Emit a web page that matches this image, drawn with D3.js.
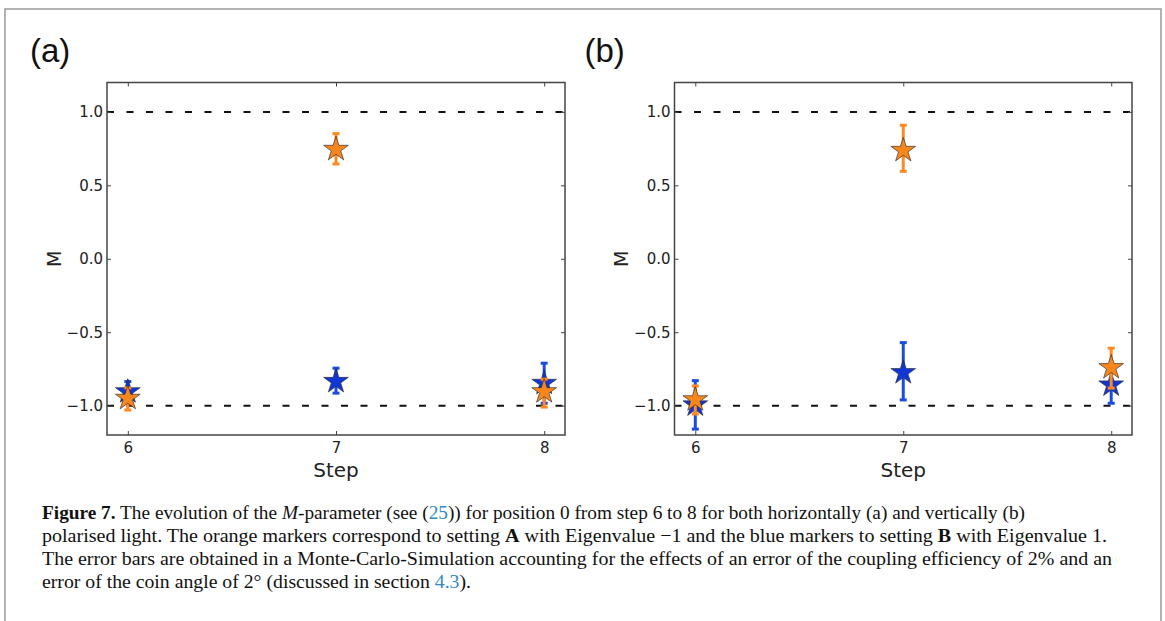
<!DOCTYPE html>
<html>
<head>
<meta charset="utf-8">
<script src="https://cdn.jsdelivr.net/npm/d3@7"></script>
<style>
  html, body { margin: 0; padding: 0; background: #fff; }
  svg { display: block; }
</style>
</head>
<body>
<svg id="chart" width="1165" height="621"></svg>
<script>
// ---------------- DATA ----------------
const steps = [6, 7, 8];
const xTickLabels = ["6", "7", "8"];
const yTicks = [-1.0, -0.5, 0.0, 0.5, 1.0];
const yTickLabels = ["\u22121.0", "\u22120.5", "0.0", "0.5", "1.0"];
const refLines = [1.0, -1.0];
const panelLabels = ["(a)", "(b)"];

// Panel (a): horizontally polarised
const aOrange     = [-0.950, 0.745, -0.905];
const aOrangeLow  = [-1.030, 0.645, -1.010];
const aOrangeHigh = [-0.880, 0.852, -0.820];
const aBlue       = [-0.905, -0.835, -0.848];
const aBlueLow    = [-0.980, -0.915, -0.984];
const aBlueHigh   = [-0.836, -0.745, -0.711];

// Panel (b): vertically polarised
const bOrange     = [-0.960, 0.738, -0.741];
const bOrangeLow  = [-1.057, 0.595, -0.881];
const bOrangeHigh = [-0.866, 0.909, -0.609];
const bBlue       = [-0.995, -0.775, -0.859];
const bBlueLow    = [-1.160, -0.961, -0.984];
const bBlueHigh   = [-0.830, -0.571, -0.760];

// ---------------- STYLE ----------------
const ORANGE = "#f7861c", ORANGE_ERR = "#ff8a1f";
const BLUE = "#1236d6", BLUE_ERR = "#1a4ce0";
const svg = d3.select("#chart");

// outer frame
svg.append("rect")
  .attr("x", 5).attr("y", 9).attr("width", 1156).attr("height", 630)
  .attr("fill", "none").attr("stroke", "#9a9a9a").attr("stroke-width", 1.5);

const plotTop = 82.5, plotBottom = 435;
const panels = [
  { left: 107, right: 565, label: panelLabels[0], labelX: 30,
    series: [
      { v: aBlue, lo: aBlueLow, hi: aBlueHigh, fill: BLUE, err: BLUE_ERR },
      { v: aOrange, lo: aOrangeLow, hi: aOrangeHigh, fill: ORANGE, err: ORANGE_ERR }
    ] },
  { left: 674.5, right: 1132, label: panelLabels[1], labelX: 584.5,
    series: [
      { v: bBlue, lo: bBlueLow, hi: bBlueHigh, fill: BLUE, err: BLUE_ERR },
      { v: bOrange, lo: bOrangeLow, hi: bOrangeHigh, fill: ORANGE, err: ORANGE_ERR }
    ] }
];

const star = d3.symbol().type(d3.symbolStar).size(190);

panels.forEach((p, pi) => {
  const x = d3.scaleLinear().domain([5.9, 8.1]).range([p.left, p.right]);
  const y = d3.scaleLinear().domain([-1.2, 1.2]).range([plotBottom, plotTop]);
  const g = svg.append("g");

  // panel label
  svg.append("text").attr("x", p.labelX).attr("y", 62)
    .attr("font-family", "Liberation Sans, Arial, sans-serif")
    .attr("font-size", 33).attr("fill", "#111").text(p.label);

  const clipId = "clip" + pi;
  svg.append("clipPath").attr("id", clipId).append("rect")
    .attr("x", p.left).attr("y", plotTop).attr("width", p.right - p.left).attr("height", plotBottom - plotTop);

  // reference dashed lines
  g.append("g").attr("clip-path", `url(#${clipId})`)
    .selectAll("line").data(refLines).join("line")
    .attr("x1", p.left).attr("x2", p.right)
    .attr("y1", d => y(d)).attr("y2", d => y(d))
    .attr("stroke", "#111").attr("stroke-width", 2)
    .attr("stroke-dasharray", "7,12.5");

  // axes
  const fontAxis = "DejaVu Sans, sans-serif";
  const left = g.append("g").attr("transform", `translate(${p.left},0)`)
    .call(d3.axisLeft(y).tickValues(yTicks).tickFormat((d, i) => yTickLabels[i]).tickSize(-4).tickPadding(4));
  const right = g.append("g").attr("transform", `translate(${p.right},0)`)
    .call(d3.axisRight(y).tickValues(yTicks).tickFormat("").tickSize(-4));
  const bot = g.append("g").attr("transform", `translate(0,${plotBottom})`)
    .call(d3.axisBottom(x).tickValues(steps).tickFormat((d, i) => xTickLabels[i]).tickSize(-4).tickPadding(7));
  const tp = g.append("g").attr("transform", `translate(0,${plotTop})`)
    .call(d3.axisTop(x).tickValues(steps).tickFormat("").tickSize(-4));
  [left, right, bot, tp].forEach(a => {
    a.select(".domain").remove();
    a.selectAll(".tick line").attr("stroke", "#444").attr("stroke-width", 1);
    a.selectAll(".tick text").attr("font-family", fontAxis).attr("font-size", 15).attr("fill", "#222");
  });
  // frame of axes
  g.append("rect").attr("x", p.left).attr("y", plotTop)
    .attr("width", p.right - p.left).attr("height", plotBottom - plotTop)
    .attr("fill", "none").attr("stroke", "#444").attr("stroke-width", 1.5);

  // axis titles
  g.append("text").attr("x", (p.left + p.right) / 2).attr("y", 477)
    .attr("text-anchor", "middle").attr("font-family", fontAxis)
    .attr("font-size", 20).attr("fill", "#222").text("Step");
  g.append("text")
    .attr("transform", `translate(${p.left - 46.5},${y(0)}) rotate(-90)`)
    .attr("text-anchor", "middle").attr("font-family", fontAxis)
    .attr("font-size", 19).attr("fill", "#222").text("M");

  // series
  p.series.forEach(s => {
    const sg = g.append("g");
    steps.forEach((st, i) => {
      const cx = x(st);
      sg.append("line").attr("x1", cx).attr("x2", cx)
        .attr("y1", y(s.lo[i])).attr("y2", y(s.hi[i]))
        .attr("stroke", s.err).attr("stroke-width", 3);
      [s.lo[i], s.hi[i]].forEach(e => {
        sg.append("line").attr("x1", cx - 3.5).attr("x2", cx + 3.5)
          .attr("y1", y(e)).attr("y2", y(e))
          .attr("stroke", s.err).attr("stroke-width", 3);
      });
    });
    sg.selectAll("path.star").data(steps).join("path")
      .attr("class", "star")
      .attr("d", star)
      .attr("transform", (d, i) => `translate(${x(d)},${y(s.v[i])})`)
      .attr("fill", s.fill).attr("stroke", "#2a2a2a").attr("stroke-width", 0.8)
      .attr("stroke-opacity", 0.8);
  });
});

// ---------------- CAPTION ----------------
const capFont = "Liberation Serif, Times New Roman, serif";
const LINK = "#2f8ac4";
const capLines = [
  { y: 519, len: 983, parts: [
      { t: "Figure 7.", w: "bold" }, { t: " The evolution of the " }, { t: "M", s: "italic" },
      { t: "-parameter (see (" }, { t: "25", c: LINK }, { t: ")) for position 0 from step 6 to 8 for both horizontally (a) and vertically (b)" } ] },
  { y: 542, len: 1065, parts: [
      { t: "polarised light. The orange markers correspond to setting " }, { t: "A", w: "bold" },
      { t: " with Eigenvalue \u22121 and the blue markers to setting " }, { t: "B", w: "bold" }, { t: " with Eigenvalue 1." } ] },
  { y: 565, len: 1070, parts: [
      { t: "The error bars are obtained in a Monte-Carlo-Simulation accounting for the effects of an error of the coupling efficiency of 2% and an" } ] },
  { y: 588, len: 429, parts: [
      { t: "error of the coin angle of 2\u00b0 (discussed in section " }, { t: "4.3", c: LINK }, { t: ")." } ] }
];
capLines.forEach(l => {
  const t = svg.append("text").attr("x", 42).attr("y", l.y)
    .attr("font-family", capFont).attr("font-size", 19.5).attr("fill", "#111")
    .attr("textLength", l.len).attr("lengthAdjust", "spacingAndGlyphs")
    .style("white-space", "pre");
  l.parts.forEach(pt => {
    t.append("tspan").text(pt.t)
      .attr("font-weight", pt.w || null)
      .attr("font-style", pt.s || null)
      .attr("fill", pt.c || null);
  });
});
</script>
</body>
</html>
